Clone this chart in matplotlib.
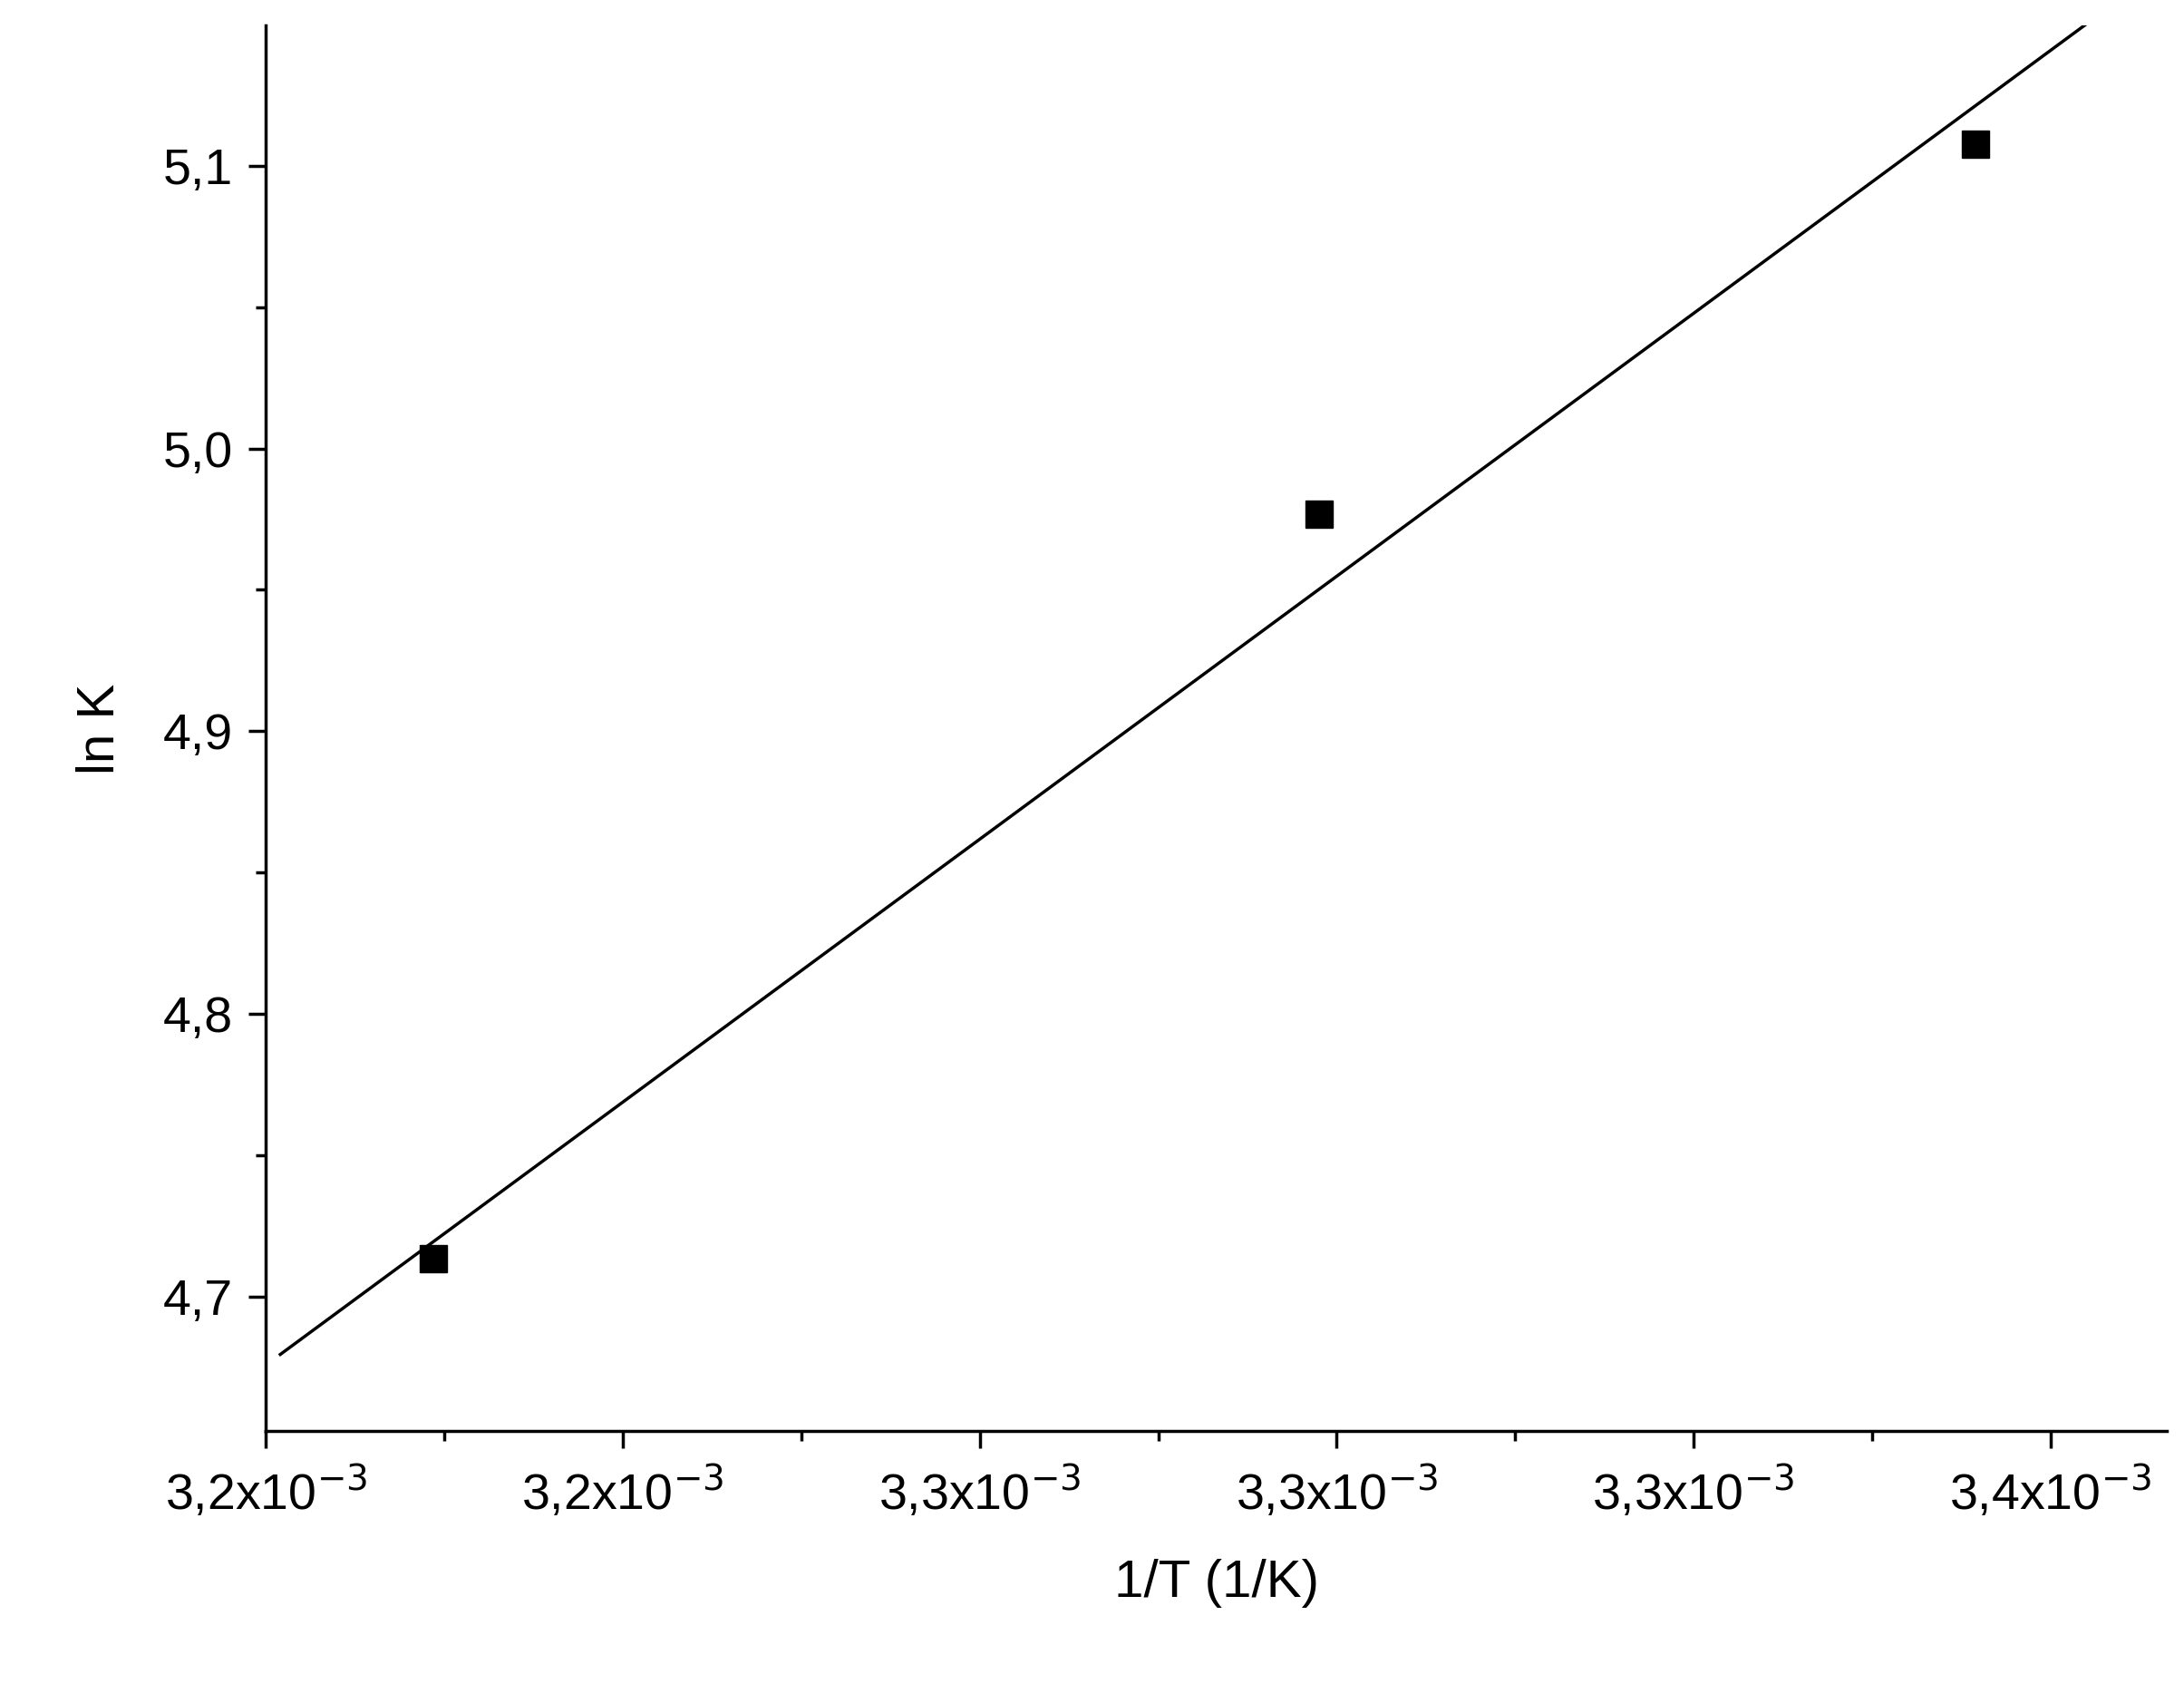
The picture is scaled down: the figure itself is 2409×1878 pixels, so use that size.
import matplotlib
matplotlib.use("Agg")
import matplotlib.pyplot as plt
from matplotlib.ticker import FixedLocator

plt.rcParams['font.family'] = ['Liberation Sans', 'DejaVu Sans']

x_points = [3.1988e-3, 3.2980e-3, 3.3716e-3]
y_points = [4.7134, 4.9767, 5.1074]
fit_x = [3.1816e-3, 3.3840e-3]
fit_y = [4.6797, 5.1500]
x_ticks = [3.18e-3, 3.22e-3, 3.26e-3, 3.30e-3, 3.34e-3, 3.38e-3]
x_ticklabels = ["3,2x10$^{-3}$", "3,2x10$^{-3}$", "3,3x10$^{-3}$", "3,3x10$^{-3}$", "3,3x10$^{-3}$", "3,4x10$^{-3}$"]
y_ticks = [4.7, 4.8, 4.9, 5.0, 5.1]
y_ticklabels = ["4,7", "4,8", "4,9", "5,0", "5,1"]

fig = plt.figure(figsize=(24.09, 18.78), dpi=100)
ax = fig.add_axes([0.1218, 0.1595, 0.8702, 0.8255])
ax.plot(fit_x, fit_y, color='black', lw=2.5)
ax.plot(x_points, y_points, 's', color='black', ms=22)
ax.set_xlim(3.18e-3, 3.393e-3)
ax.set_ylim(4.6525, 5.1495)
ax.set_xticks(x_ticks)
ax.set_xticklabels(x_ticklabels)
ax.set_yticks(y_ticks)
ax.set_yticklabels(y_ticklabels)
ax.xaxis.set_minor_locator(FixedLocator([t + 0.02e-3 for t in x_ticks]))
ax.yaxis.set_minor_locator(FixedLocator([4.75, 4.85, 4.95, 5.05]))
for s in ['top', 'right']:
    ax.spines[s].set_visible(False)
for s in ['left', 'bottom']:
    ax.spines[s].set_linewidth(2.5)
ax.tick_params(which='major', direction='out', length=14, width=2.5, labelsize=40, pad=12)
ax.tick_params(which='minor', direction='out', length=8, width=2.5)
ax.set_xlabel("1/T (1/K)", fontsize=42, labelpad=30)
ax.set_ylabel("ln K", fontsize=42, labelpad=30)
fig.savefig("out.png", dpi=100)
